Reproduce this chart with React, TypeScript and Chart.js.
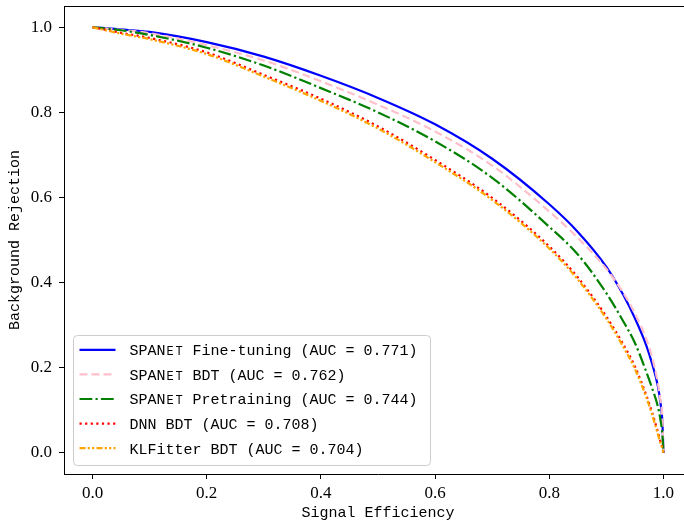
import { useEffect, useRef } from "react";
import { Chart, registerables } from "chart.js";

Chart.register(...registerables);

// Signal efficiency grid (x) shared by all ROC curves
const SIGNAL_EFF = [0, 0.05, 0.1, 0.2, 0.3, 0.4, 0.5, 0.6, 0.7, 0.8, 0.85, 0.9, 0.93, 0.95, 0.97, 0.98, 0.99, 0.995, 0.998, 1.0];

// Background rejection (y) per model
const FINE_TUNING = [1.0, 0.995, 0.989, 0.965, 0.931, 0.886, 0.834, 0.772, 0.691, 0.584, 0.519, 0.437, 0.37, 0.316, 0.252, 0.21, 0.158, 0.115, 0.075, 0.0];
const SPANET_BDT = [1.0, 0.994, 0.986, 0.958, 0.922, 0.873, 0.818, 0.755, 0.675, 0.567, 0.505, 0.432, 0.375, 0.327, 0.267, 0.225, 0.165, 0.12, 0.085, 0.0];
const PRETRAINING = [1.0, 0.993, 0.982, 0.952, 0.91, 0.857, 0.8, 0.732, 0.646, 0.531, 0.466, 0.375, 0.308, 0.258, 0.19, 0.152, 0.11, 0.075, 0.045, 0.0];
const DNN_BDT = [1.0, 0.987, 0.975, 0.941, 0.888, 0.832, 0.767, 0.688, 0.599, 0.485, 0.412, 0.32, 0.254, 0.203, 0.135, 0.095, 0.05, 0.025, 0.012, 0.0];
const KLFITTER_BDT = [1.0, 0.985, 0.972, 0.937, 0.884, 0.827, 0.762, 0.683, 0.594, 0.48, 0.407, 0.315, 0.248, 0.197, 0.13, 0.09, 0.045, 0.022, 0.01, 0.0];

const SERIES_LABELS = [
  "SPANet Fine-tuning (AUC = 0.771)",
  "SPANet BDT (AUC = 0.762)",
  "SPANet Pretraining (AUC = 0.744)",
  "DNN BDT (AUC = 0.708)",
  "KLFitter BDT (AUC = 0.704)",
];
const SERIES_VALUES = [FINE_TUNING, SPANET_BDT, PRETRAINING, DNN_BDT, KLFITTER_BDT];
const SERIES_COLORS = ["#0000ff", "#ffc0cb", "#008000", "#ff0000", "#ffa500"];
const SERIES_DASHES: number[][] = [[], [8, 4], [12.8, 3.2, 2.2, 3.2], [2.2, 3.4], [6, 2.2, 2.2, 2.2, 2.2, 2.2]];

const TICKS = [0, 0.2, 0.4, 0.6, 0.8, 1.0];
const X_TITLE = "Signal Efficiency";
const Y_TITLE = "Background Rejection";

const MONO = '"Liberation Mono", "DejaVu Sans Mono", monospace';
const SERIF = '"Liberation Serif", "Times New Roman", serif';

function drawLabel(ctx: CanvasRenderingContext2D, label: string, x: number, y: number, cw: number) {
  if (label.startsWith("SPANet")) {
    ctx.fillText("SPAN", x, y);
    ctx.save();
    ctx.font = `12px ${MONO}`;
    "ET".split("").forEach((ch, j) => {
      const w = ctx.measureText(ch).width;
      ctx.fillText(ch, x + (4 + j) * cw + (cw - w) / 2, y);
    });
    ctx.restore();
    ctx.fillText(label.slice(6), x + 6 * cw, y);
  } else {
    ctx.fillText(label, x, y);
  }
}

const framePlugin = {
  id: "frame",
  afterDraw(chart: any) {
    const { ctx, chartArea: ca } = chart;
    ctx.save();
    ctx.strokeStyle = "#000";
    ctx.lineWidth = 1;
    ctx.beginPath();
    ctx.moveTo(ca.left, Math.round(ca.top) + 0.5);
    ctx.lineTo(ca.right, Math.round(ca.top) + 0.5);
    ctx.moveTo(Math.round(ca.right) + 0.5, ca.top);
    ctx.lineTo(Math.round(ca.right) + 0.5, ca.bottom);
    ctx.stroke();
    ctx.restore();
  },
};

const legendPlugin = {
  id: "rocLegend",
  afterDraw(chart: any) {
    const { ctx, chartArea: ca } = chart;
    ctx.save();
    ctx.font = `15px ${MONO}`;
    const cw = ctx.measureText("M").width;
    const maxChars = Math.max(...SERIES_LABELS.map((l) => l.length));
    const x0 = Math.round(ca.left + 9) + 0.5;
    const boxW = 56 + maxChars * cw + 13;
    const rowH = 24.6;
    const boxH = 14.3 + rowH * (SERIES_LABELS.length - 1) + 17.3;
    const y0 = Math.round(ca.bottom - 9 - boxH) + 0.5;
    ctx.beginPath();
    ctx.roundRect(x0, y0, boxW, boxH, 4);
    ctx.fillStyle = "rgba(255,255,255,0.8)";
    ctx.fill();
    ctx.strokeStyle = "#cccccc";
    ctx.lineWidth = 1;
    ctx.stroke();
    SERIES_LABELS.forEach((label, i) => {
      const cy = y0 + 14.3 + i * rowH;
      ctx.save();
      ctx.strokeStyle = SERIES_COLORS[i];
      ctx.lineWidth = 2.2;
      ctx.setLineDash(SERIES_DASHES[i]);
      ctx.beginPath();
      ctx.moveTo(x0 + 6, cy);
      ctx.lineTo(x0 + 42, cy);
      ctx.stroke();
      ctx.restore();
      ctx.fillStyle = "#000";
      ctx.textBaseline = "alphabetic";
      ctx.textAlign = "left";
      drawLabel(ctx, label, x0 + 56, cy + 5.3, cw);
    });
    ctx.restore();
  },
};

function axisCommon(title: string, isX: boolean) {
  return {
    type: "linear" as const,
    min: -0.05,
    max: 1.05,
    afterBuildTicks: (s: any) => {
      s.ticks = TICKS.map((v) => ({ value: v }));
    },
    afterFit: (s: any) => {
      if (isX) {
        s.height = 48;
        s.paddingLeft = 0;
        s.paddingRight = 0;
      } else {
        s.width = 64;
        s.paddingTop = 0;
        s.paddingBottom = 0;
      }
    },
    ticks: {
      color: "#000",
      font: { family: SERIF, size: 17 },
      padding: isX ? 4 : 7,
      maxRotation: 0,
      autoSkip: false,
      callback: (v: any) => Number(v).toFixed(1),
    },
    grid: {
      drawOnChartArea: false,
      drawTicks: true,
      tickLength: 5,
      tickColor: "#000",
      tickWidth: 1,
    },
    border: { display: true, color: "#000", width: 1 },
    title: {
      display: true,
      text: title,
      color: "#000",
      font: { family: MONO, size: 15, lineHeight: 1.2 },
      padding: isX ? { top: 0, bottom: 0 } : { top: 6, bottom: 0 },
    },
  };
}

export default function App() {
  const ref = useRef<HTMLCanvasElement | null>(null);
  useEffect(() => {
    if (!ref.current) return;
    const datasets = SERIES_LABELS.map((label, i) => ({
      label,
      data: SIGNAL_EFF.map((x, j) => ({ x, y: SERIES_VALUES[i][j] })),
      borderColor: SERIES_COLORS[i],
      backgroundColor: SERIES_COLORS[i],
      borderWidth: 2.2,
      borderDash: SERIES_DASHES[i],
      borderCapStyle: "butt" as const,
      pointRadius: 0,
      fill: false,
      cubicInterpolationMode: "monotone" as const,
      order: SERIES_LABELS.length - i,
    }));
    const chart = new Chart(ref.current, {
      type: "line",
      data: { datasets },
      options: {
        animation: false,
        responsive: false,
        devicePixelRatio: 1,
        layout: { padding: { left: 0, top: 6, right: 8, bottom: 0 } },
        plugins: { legend: { display: false }, tooltip: { enabled: false } },
        scales: {
          x: axisCommon(X_TITLE, true) as any,
          y: axisCommon(Y_TITLE, false) as any,
        },
      },
      plugins: [framePlugin, legendPlugin],
    });
    return () => chart.destroy();
  }, []);
  return (
    <div style={{ position: "fixed", left: 0, top: 0, width: 684, height: 522, overflow: "hidden", background: "#fff" }}>
      <canvas ref={ref} width={700} height={522} style={{ width: 700, height: 522, display: "block" }} />
    </div>
  );
}
